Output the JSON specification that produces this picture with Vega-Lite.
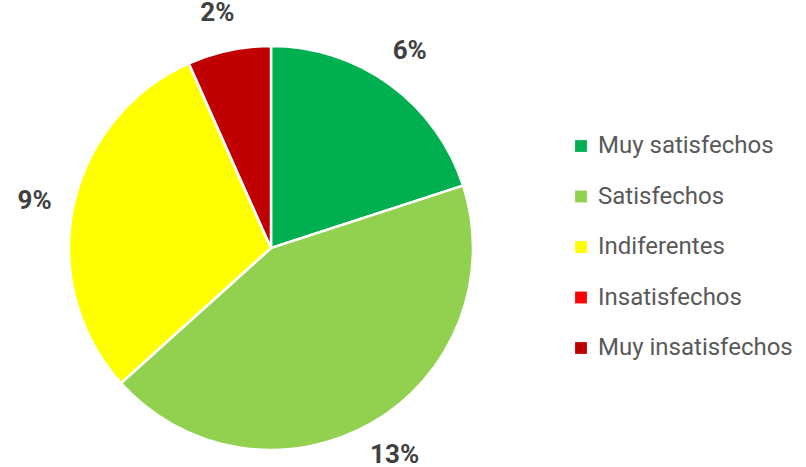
{
  "$schema": "https://vega.github.io/schema/vega-lite/v6.json",
  "width": 542,
  "height": 496,
  "padding": {"left": 0, "top": 0, "right": 264, "bottom": 0},
  "autosize": "none",
  "background": "white",
  "view": {"stroke": null},
  "data": {
    "values": [
      {"cat": "Muy satisfechos", "idx": 1, "value": 6, "label": "6%"},
      {"cat": "Satisfechos", "idx": 2, "value": 13, "label": "13%"},
      {"cat": "Indiferentes", "idx": 3, "value": 9, "label": "9%"},
      {"cat": "Insatisfechos", "idx": 4, "value": 0, "label": "0%"},
      {"cat": "Muy insatisfechos", "idx": 5, "value": 2, "label": "2%"}
    ]
  },
  "encoding": {
    "theta": {"field": "value", "type": "quantitative", "stack": true},
    "order": {"field": "idx", "type": "ordinal"}
  },
  "layer": [
    {
      "mark": {"type": "arc", "outerRadius": 202, "stroke": "white", "strokeWidth": 2.5},
      "encoding": {
        "color": {
          "field": "cat",
          "type": "nominal",
          "scale": {
            "domain": ["Muy satisfechos", "Satisfechos", "Indiferentes", "Insatisfechos", "Muy insatisfechos"],
            "range": ["#00B050", "#92D050", "#FFFF00", "#FF0000", "#C00000"]
          },
          "sort": null,
          "legend": {
            "title": null,
            "orient": "none",
            "legendX": 569,
            "legendY": 134,
            "symbolType": "square",
            "symbolSize": 140,
            "symbolStrokeWidth": 0,
            "labelFont": "Roboto",
            "labelFontSize": 24,
            "labelColor": "#595959",
            "labelOffset": 5,
            "rowPadding": 26.5,
            "labelLimit": 300
          }
        }
      }
    },
    {
      "transform": [{"filter": "datum.value > 0"}],
      "mark": {
        "type": "text",
        "radius": 241,
        "thetaOffset": -0.015,
        "font": "Roboto",
        "fontSize": 26,
        "fontWeight": "bold",
        "color": "#404040",
        "align": "center",
        "baseline": "middle"
      },
      "encoding": {
        "text": {"field": "label"}
      }
    }
  ]
}
